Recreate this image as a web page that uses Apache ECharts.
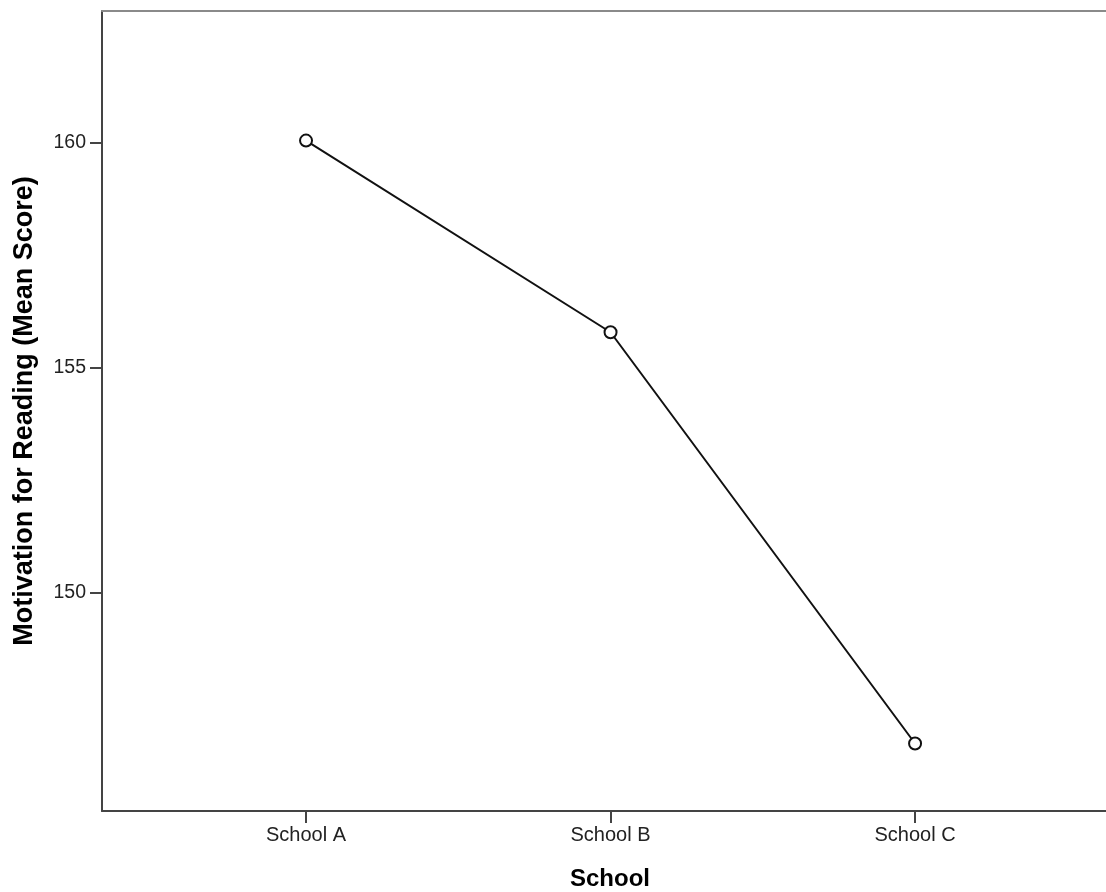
<!DOCTYPE html>
<html>
<head>
<meta charset="utf-8">
<script src="https://cdn.jsdelivr.net/npm/echarts@6/dist/echarts.min.js"></script>
<style>
html,body{margin:0;padding:0;background:#fff;}
#chart{width:1106px;height:892px;}
</style>
</head>
<body>
<div id="chart"></div>
<script>
var categories = ['School A', 'School B', 'School C'];
var meanScores = [160.04, 155.78, 146.64];
var yTicks = [150, 155, 160];

var seriesData = categories.map(function (c, i) { return [i, meanScores[i]]; });
var xTicks = categories.map(function (c, i) { return i; });

var FONT = '"Liberation Sans", Arial, sans-serif';
var chart = echarts.init(document.getElementById('chart'));
chart.setOption({
  animation: false,
  backgroundColor: '#fff',
  grid: { left: 102, right: 0, top: 11, bottom: 81, show: false, containLabel: false, outerBoundsMode: 'none' },
  xAxis: [{
    type: 'value',
    min: -0.67, max: 2.627,
    name: 'School',
    nameLocation: 'middle',
    nameGap: 56,
    nameTextStyle: { fontFamily: FONT, fontSize: 24, fontWeight: 'bold', color: '#000', padding: [0, 0, 0, 12] },
    axisLine: { show: true, onZero: false, lineStyle: { color: '#444', width: 2 } },
    axisTick: { show: true, customValues: xTicks, length: 12, lineStyle: { color: '#444', width: 2 } },
    axisLabel: {
      customValues: xTicks, margin: 14,
      fontFamily: FONT, fontSize: 20, color: '#222',
      formatter: function (v) { return categories[Math.round(v)] || ''; }
    },
    splitLine: { show: false }
  }, {
    type: 'value',
    position: 'top',
    min: -0.67, max: 2.627,
    axisLine: { show: true, onZero: false, lineStyle: { color: '#8a8a8a', width: 2 } },
    axisTick: { show: false },
    axisLabel: { show: false },
    splitLine: { show: false }
  }],
  yAxis: {
    type: 'value',
    min: 145.14, max: 162.92,
    name: 'Motivation for Reading (Mean Score)',
    nameLocation: 'middle',
    nameGap: 64,
    nameTextStyle: { fontFamily: FONT, fontSize: 27, fontWeight: 'bold', color: '#000' },
    axisLine: { show: true, onZero: false, lineStyle: { color: '#444', width: 2 } },
    axisTick: { show: true, customValues: yTicks, length: 12, lineStyle: { color: '#444', width: 2 } },
    axisLabel: {
      customValues: yTicks, margin: 16,
      fontFamily: FONT, fontSize: 19.5, color: '#222'
    },
    splitLine: { show: false }
  },
  series: [{
    type: 'line',
    xAxisIndex: 0,
    data: seriesData,
    symbol: 'circle',
    symbolSize: 12,
    lineStyle: { color: '#111', width: 2 },
    itemStyle: { color: '#fff', borderColor: '#111', borderWidth: 2 },
    emphasis: { disabled: true }
  }]
});
</script>
</body>
</html>
